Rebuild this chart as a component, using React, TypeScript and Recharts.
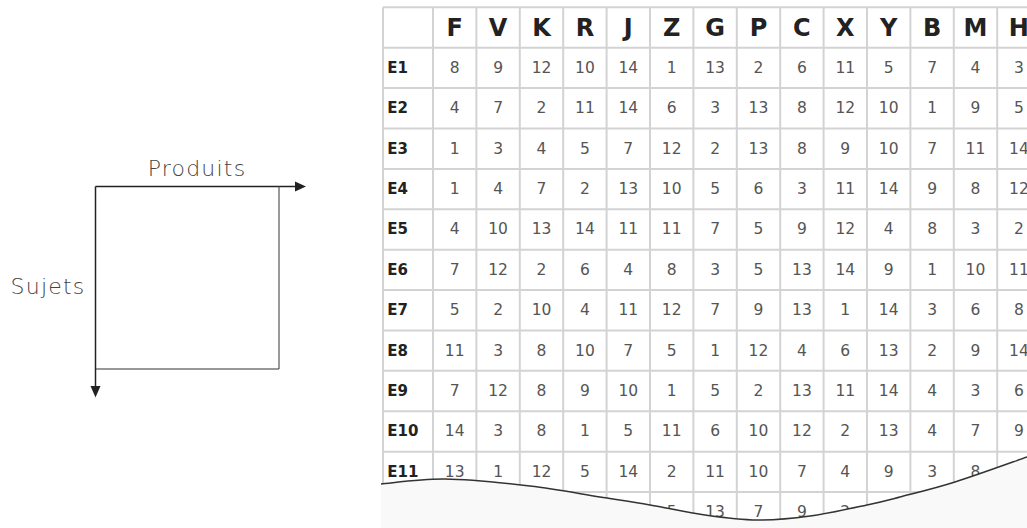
import React from 'react';
import { ScatterChart, Scatter, XAxis, YAxis, ReferenceLine } from 'recharts';

// ---------- data ----------
const products = ['F', 'V', 'K', 'R', 'J', 'Z', 'G', 'P', 'C', 'X', 'Y', 'B', 'M', 'H'];
const subjects = ['E1', 'E2', 'E3', 'E4', 'E5', 'E6', 'E7', 'E8', 'E9', 'E10', 'E11', 'E12'];

const rowE1 = [8, 9, 12, 10, 14, 1, 13, 2, 6, 11, 5, 7, 4, 3];
const rowE2 = [4, 7, 2, 11, 14, 6, 3, 13, 8, 12, 10, 1, 9, 5];
const rowE3 = [1, 3, 4, 5, 7, 12, 2, 13, 8, 9, 10, 7, 11, 14];
const rowE4 = [1, 4, 7, 2, 13, 10, 5, 6, 3, 11, 14, 9, 8, 12];
const rowE5 = [4, 10, 13, 14, 11, 11, 7, 5, 9, 12, 4, 8, 3, 2];
const rowE6 = [7, 12, 2, 6, 4, 8, 3, 5, 13, 14, 9, 1, 10, 11];
const rowE7 = [5, 2, 10, 4, 11, 12, 7, 9, 13, 1, 14, 3, 6, 8];
const rowE8 = [11, 3, 8, 10, 7, 5, 1, 12, 4, 6, 13, 2, 9, 14];
const rowE9 = [7, 12, 8, 9, 10, 1, 5, 2, 13, 11, 14, 4, 3, 6];
const rowE10 = [14, 3, 8, 1, 5, 11, 6, 10, 12, 2, 13, 4, 7, 9];
const rowE11 = [13, 1, 12, 5, 14, 2, 11, 10, 7, 4, 9, 3, 8, 6];
const rowE12: (number | null)[] = [null, null, null, null, null, 5, 13, 7, 9, 2, null, null, null, null];

const rows: (number | null)[][] = [rowE1, rowE2, rowE3, rowE4, rowE5, rowE6, rowE7, rowE8, rowE9, rowE10, rowE11, rowE12];

// ---------- layout ----------
const W = 1027;
const H = 528;
const X_MIN = -1.152;
const X_MAX = 13.687;
const Y_MIN = -1;
const Y_MAX = 11.89;

const cellData = rows.flatMap((row, r) =>
  row
    .map((v, c) => (v == null ? null : { x: c + 0.5, y: r + 0.5, v }))
    .filter((d): d is { x: number; y: number; v: number } => d !== null)
);
const headerData = products.map((p, i) => ({ x: i + 0.5, y: -0.5, v: p }));
const rowLabelData = subjects.map((s, r) => ({ x: X_MIN + 0.1, y: r + 0.5, v: s }));

const vLines = [X_MIN, ...products.map((_, i) => i)];
const hLines = [Y_MIN, ...subjects.map((_, i) => i)];

const NUM_FONT = "'DejaVu Sans', sans-serif";

const NumShape = (p: any) => (
  <text
    x={p.cx}
    y={p.cy}
    textAnchor="middle"
    dominantBaseline="central"
    fontSize={15.5}
    fontFamily={NUM_FONT}
    fontWeight={400}
    fill="#555"
  >
    {p.payload.v}
  </text>
);

const HeaderShape = (p: any) => (
  <text
    x={p.cx}
    y={p.cy + 1}
    textAnchor="middle"
    dominantBaseline="central"
    fontSize={24}
    fontFamily={NUM_FONT}
    fontWeight={700}
    fill="#222"
  >
    {p.payload.v}
  </text>
);

const RowLabelShape = (p: any) => (
  <text
    x={p.cx}
    y={p.cy}
    textAnchor="start"
    dominantBaseline="central"
    fontSize={15}
    fontFamily={NUM_FONT}
    fontWeight={700}
    fill="#222"
  >
    {p.payload.v}
  </text>
);

// torn-edge decoration outline (page space)
const wavePts: [number, number][] = [
  [381, 484], [445, 479], [530, 486], [600, 497], [650, 505], [705, 515],
  [757, 520], [810, 516], [867, 505], [900, 497], [955, 482], [1027, 457],
];
function smoothPath(pts: [number, number][]) {
  let d = `M ${pts[0][0]} ${pts[0][1]}`;
  for (let i = 0; i < pts.length - 1; i++) {
    const p0 = pts[i - 1] || pts[i];
    const p1 = pts[i];
    const p2 = pts[i + 1];
    const p3 = pts[i + 2] || p2;
    const c1x = p1[0] + (p2[0] - p0[0]) / 6;
    const c1y = p1[1] + (p2[1] - p0[1]) / 6;
    const c2x = p2[0] - (p3[0] - p1[0]) / 6;
    const c2y = p2[1] - (p3[1] - p1[1]) / 6;
    d += ` C ${c1x} ${c1y}, ${c2x} ${c2y}, ${p2[0]} ${p2[1]}`;
  }
  return d;
}
const waveD = smoothPath(wavePts);
const waveFill = `${waveD} L 1027 528 L 381 528 Z`;

const TEXT_FONT = "'DejaVu Sans', sans-serif";

export default function App() {
  return (
    <div style={{ position: 'absolute', left: 0, top: 0, width: W, height: H, background: '#fff' }}>
      <ScatterChart width={W} height={H} margin={{ top: 7.3, left: 383, right: 0, bottom: 0 }}>
        <XAxis type="number" dataKey="x" domain={[X_MIN, X_MAX]} allowDataOverflow hide />
        <YAxis type="number" dataKey="y" domain={[Y_MIN, Y_MAX]} allowDataOverflow reversed hide />
        {vLines.map((v) => (
          <ReferenceLine key={`v${v}`} x={v} stroke="#d3d3d3" strokeWidth={2} ifOverflow="visible" />
        ))}
        {hLines.map((v) => (
          <ReferenceLine key={`h${v}`} y={v} stroke="#d3d3d3" strokeWidth={2} ifOverflow="visible" />
        ))}
        <Scatter data={cellData} shape={NumShape} isAnimationActive={false} />
        <Scatter data={headerData} shape={HeaderShape} isAnimationActive={false} />
        <Scatter data={rowLabelData} shape={RowLabelShape} isAnimationActive={false} />
      </ScatterChart>
      <svg
        width={W}
        height={H}
        style={{ position: 'absolute', left: 0, top: 0, pointerEvents: 'none' }}
      >
        <path d={waveFill} fill="#f9f9f9" stroke="none" />
        <path d={waveD} fill="none" stroke="#333" strokeWidth={1.5} />

        {/* schematic on the left */}
        <line x1={95.5} y1={186.5} x2={297} y2={186.5} stroke="#222" strokeWidth={1.5} />
        <polygon points="295,181.5 306,186.5 295,191.5" fill="#222" />
        <line x1={95.5} y1={186.5} x2={95.5} y2={388} stroke="#222" strokeWidth={1.5} />
        <polygon points="90.5,386 95.5,397.5 100.5,386" fill="#222" />
        <line x1={279} y1={186.5} x2={279} y2={369} stroke="#555" strokeWidth={1.2} />
        <line x1={95.5} y1={369} x2={279} y2={369} stroke="#333" strokeWidth={1.2} />
        <text x={197} y={176} textAnchor="middle" fontSize={22} fontFamily={TEXT_FONT} fontWeight={300} letterSpacing={1.2} fill="#444">
          Produits
        </text>
        <text x={48} y={286} textAnchor="middle" dominantBaseline="central" fontSize={22} fontFamily={TEXT_FONT} fontWeight={300} letterSpacing={1.2} fill="#444">
          Sujets
        </text>
      </svg>
    </div>
  );
}
